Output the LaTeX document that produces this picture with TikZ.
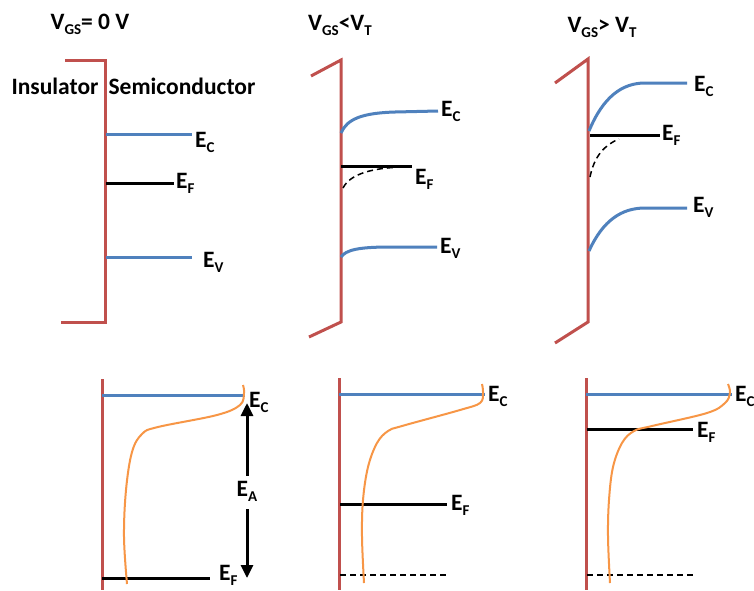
\documentclass[tikz,border=0pt]{standalone}
\usepackage{fontspec}
\setmainfont{Carlito}
\usetikzlibrary{arrows.meta}
\definecolor{ired}{HTML}{C0504D}
\definecolor{iblue}{HTML}{4F81BD}
\definecolor{iorange}{HTML}{F79646}
\newcommand\lowsub[1]{\raisebox{-0.45ex}{\fontsize{15}{15}\selectfont #1}}
\tikzset{
  wall/.style={draw=ired, line width=3pt, line join=miter},
  band/.style={draw=iblue, line width=3pt},
  fermi/.style={draw=black, line width=3pt},
  dashfermi/.style={draw=black, line width=1.5pt, dashed, dash pattern=on 6pt off 4pt},
  occ/.style={draw=iorange, line width=2pt},
  lbl/.style={font=\bfseries\fontsize{23.5}{23.5}\selectfont, inner sep=0pt, anchor=west},
  ttl/.style={font=\bfseries\fontsize{23.5}{23.5}\selectfont, inner sep=0pt},
  tip/.style={-{Triangle[width=12pt,length=13pt]}, line width=3pt}
}
\begin{document}
\begin{tikzpicture}[x=1pt,y=-1pt]
\useasboundingbox[fill=white] (0,0) rectangle (754,590);
% titles
\node[ttl] (t1) at (90,24) {V\lowsub{GS}= 0 V};
\node[ttl] (t2) at (340,25) {V\lowsub{GS}<V\lowsub{T}};
\node[ttl] (t3) at (602,27) {V\lowsub{GS}> V\lowsub{T}};
\node[ttl] (ins) at (55,86) {Insulator};
\node[ttl] (sem) at (182,86) {Semiconductor};
% ---- panel 1 top
\draw[wall] (65,60) -- (105,60) -- (105,322) -- (61,322);
\draw[band] (106,134) -- (192,134);
\draw[fermi] (106,183) -- (174,183);
\draw[band] (106,257) -- (192,257);
\node[lbl] (ec1) at (195,142) {E\lowsub{C}};
\node[lbl] (ef1) at (176,183) {E\lowsub{F}};
\node[lbl] (ev1) at (203,262) {E\lowsub{V}};
% ---- panel 2 top
\draw[wall] (311,76) -- (341,60) -- (341,322) -- (309,337);
\draw[band] (341,133) .. controls (347,119) and (362,113) .. (395,112) -- (438,111);
\draw[fermi] (341,166) -- (412,166);
\draw[dashfermi] (343,188) .. controls (350,174) and (372,168) .. (402,167);
\draw[band] (341,257) .. controls (346,250) and (358,247) .. (390,247) -- (437,247);
\node[lbl] (ec2) at (441,111) {E\lowsub{C}};
\node[lbl] (ef2) at (415,179) {E\lowsub{F}};
\node[lbl] (ev2) at (440,248) {E\lowsub{V}};
% ---- panel 3 top
\draw[wall] (555,83) -- (588,59) -- (588,322) -- (555,343);
\draw[band] (589,131) .. controls (603,97) and (622,83) .. (645,83) -- (687,83);
\draw[fermi] (590,135) -- (660,135);
\draw[dashfermi] (590,177) .. controls (594,157) and (604,145) .. (619,139);
\draw[band] (589,251) .. controls (603,220) and (622,208) .. (645,208) -- (687,208);
\node[lbl] (ec3) at (694,86) {E\lowsub{C}};
\node[lbl] (ef3) at (662,135) {E\lowsub{F}};
\node[lbl] (ev3) at (693,207) {E\lowsub{V}};
% ---- panel 1 bottom
\draw[ired, line width=3pt] (102,379) -- (102,590);
\draw[band] (102,395) -- (245,395);
\draw[fermi] (102,578) -- (210,578);
\draw[occ] plot[smooth, tension=0.6] coordinates {(243,385) (244,393) (240,405) (217,415) (158,427) (142,434) (132,452) (126,490) (124,537) (127,584)};
\node[lbl] (ec4) at (249,402) {E\lowsub{C}};
\node[lbl] (ef4) at (219,575) {E\lowsub{F}};
\node[ttl] (ea) at (247,491) {E\lowsub{A}};
\coordinate (eatop) at (247,403);
\coordinate (eabot) at (247,578);
\draw[tip] (ea.north) ++(0,-5) -- (eatop);
\draw[tip] (ea.south) ++(0,8) -- (eabot);
% ---- panel 2 bottom
\draw[ired, line width=3pt] (339,378) -- (339,590);
\draw[band] (339,394) -- (485,394);
\draw[fermi] (340,504) -- (447,504);
\draw[dashfermi] (340,575) -- (447,575);
\draw[occ] plot[smooth, tension=0.6] coordinates {(482,384) (483,393) (480,403) (460,410) (402,426) (388,431) (377,443) (368,467) (363,500) (362,537) (364,583)};
\node[lbl] (ec5) at (488,396) {E\lowsub{C}};
\node[lbl] (ef5) at (451,505) {E\lowsub{F}};
% ---- panel 3 bottom
\draw[ired, line width=3pt] (586,378) -- (586,590);
\draw[band] (586,394) -- (732,394);
\draw[fermi] (587,429) -- (693,429);
\draw[dashfermi] (587,575) -- (693,575);
\draw[occ] plot[smooth, tension=0.6] coordinates {(728,384) (730,393) (725,403) (707,413) (652,426) (634,431) (622,443) (613,467) (609,500) (608,537) (610,583)};
\node[lbl] (ec6) at (735,396) {E\lowsub{C}};
\node[lbl] (ef6) at (697,432) {E\lowsub{F}};
\end{tikzpicture}
\end{document}
